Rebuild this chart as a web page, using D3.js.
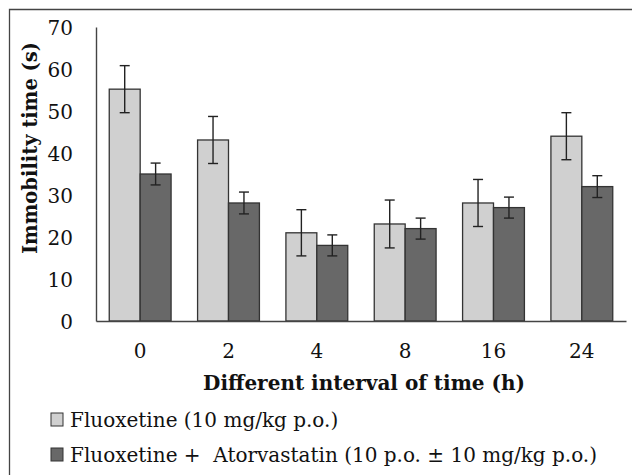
<!DOCTYPE html>
<html>
<head>
<meta charset="utf-8">
<script src="https://cdn.jsdelivr.net/npm/d3@7"></script>
<style>
  body { margin: 0; background: #fff; }
  text { font-family: "DejaVu Serif", "Liberation Serif", serif; fill: #111; }
</style>
</head>
<body>
<div id="wrapper"></div>
<script>
const categories = ["0", "2", "4", "8", "16", "24"];
const seriesNames = ["Fluoxetine (10 mg/kg p.o.)", "Fluoxetine +  Atorvastatin (10 p.o. \u00b1 10 mg/kg p.o.)"];
const fluoxetine = [55.2, 43.1, 21, 23.1, 28.1, 44];
const fluoxetineErr = [5.6, 5.6, 5.5, 5.7, 5.6, 5.6];
const combo = [35, 28.1, 18, 22, 27, 32];
const comboErr = [2.6, 2.6, 2.5, 2.5, 2.5, 2.6];
const yTicks = [0, 10, 20, 30, 40, 50, 60, 70];

const colors = ["#d0d0d0", "#686868"];

const dimensions = {
  width: 632,
  height: 475,
  margin: { top: 27, right: 6, bottom: 154, left: 96 },
};
dimensions.boundedWidth = dimensions.width - dimensions.margin.left - dimensions.margin.right;
dimensions.boundedHeight = dimensions.height - dimensions.margin.top - dimensions.margin.bottom;

const data = categories.map((c, i) => ({
  cat: c,
  values: [
    { s: 0, v: fluoxetine[i], e: fluoxetineErr[i] },
    { s: 1, v: combo[i], e: comboErr[i] },
  ],
}));

const svg = d3.select("#wrapper")
  .append("svg")
  .attr("width", dimensions.width)
  .attr("height", dimensions.height);

// outer frame (only left and top edges show in the original crop)
svg.append("path")
  .attr("d", `M9.5,${dimensions.height}V9.5H${dimensions.width}`)
  .attr("fill", "none")
  .attr("stroke", "#444")
  .attr("stroke-width", 1.3);

const bounds = svg.append("g")
  .attr("transform", `translate(${dimensions.margin.left},${dimensions.margin.top})`);

const xScale = d3.scaleBand()
  .domain(categories)
  .range([0, dimensions.boundedWidth])
  .paddingInner(0.3)
  .paddingOuter(0.15);

const xInner = d3.scaleBand()
  .domain([0, 1])
  .range([0, xScale.bandwidth()]);

const yScale = d3.scaleLinear()
  .domain([0, 70])
  .range([dimensions.boundedHeight, 0]);

const groups = bounds.selectAll(".group")
  .data(data)
  .join("g")
  .attr("transform", (d) => `translate(${xScale(d.cat)},0)`);

groups.selectAll("rect")
  .data((d) => d.values)
  .join("rect")
  .attr("x", (d) => xInner(d.s))
  .attr("y", (d) => yScale(d.v))
  .attr("width", xInner.bandwidth())
  .attr("height", (d) => yScale(0) - yScale(d.v))
  .attr("fill", (d) => colors[d.s])
  .attr("stroke", "#333")
  .attr("stroke-width", 1.3);

// error bars
const errs = groups.selectAll(".err")
  .data((d) => d.values)
  .join("g")
  .attr("class", "err")
  .attr("stroke", "#222")
  .attr("stroke-width", 1.4);
const cx = (d) => xInner(d.s) + xInner.bandwidth() / 2;
errs.append("line")
  .attr("x1", cx).attr("x2", cx)
  .attr("y1", (d) => yScale(d.v + d.e))
  .attr("y2", (d) => yScale(d.v - d.e));
errs.append("line")
  .attr("x1", (d) => cx(d) - 5).attr("x2", (d) => cx(d) + 5)
  .attr("y1", (d) => yScale(d.v + d.e))
  .attr("y2", (d) => yScale(d.v + d.e));
errs.append("line")
  .attr("x1", (d) => cx(d) - 5).attr("x2", (d) => cx(d) + 5)
  .attr("y1", (d) => yScale(d.v - d.e))
  .attr("y2", (d) => yScale(d.v - d.e));

// axes
const yAxis = bounds.append("g")
  .call(d3.axisLeft(yScale).tickValues(yTicks).tickSize(0).tickPadding(23));
yAxis.select(".domain").attr("stroke", "#444").attr("stroke-width", 1.4);
yAxis.selectAll("text")
  .style("font-size", "20px")
  .attr("dy", "0.36em");

const xAxis = bounds.append("g")
  .attr("transform", `translate(0,${dimensions.boundedHeight})`)
  .call(d3.axisBottom(xScale).tickSize(0).tickPadding(23));
xAxis.select(".domain").attr("stroke", "#444").attr("stroke-width", 1.4);
xAxis.selectAll("text")
  .style("font-size", "20px");

// axis titles
svg.append("text")
  .attr("x", dimensions.margin.left + dimensions.boundedWidth / 2 + 3)
  .attr("y", 390)
  .attr("text-anchor", "middle")
  .style("font-size", "20px")
  .style("font-weight", "bold")
  .text("Different interval of time (h)");

svg.append("text")
  .attr("transform", "translate(37,148) rotate(-90)")
  .attr("text-anchor", "middle")
  .style("font-size", "19.5px")
  .style("font-weight", "bold")
  .text("Immobility time (s)");

// legend
const legend = svg.append("g")
  .attr("transform", "translate(51,413)");
const items = legend.selectAll("g")
  .data(seriesNames)
  .join("g")
  .attr("transform", (d, i) => `translate(0,${i * 35})`);
items.append("rect")
  .attr("width", 12)
  .attr("height", 13)
  .attr("fill", (d, i) => colors[i])
  .attr("stroke", "#333")
  .attr("stroke-width", 1);
items.append("text")
  .attr("x", 19)
  .attr("y", 14)
  .style("font-size", "20px")
  .style("white-space", "pre")
  .text((d) => d);
</script>
</body>
</html>
